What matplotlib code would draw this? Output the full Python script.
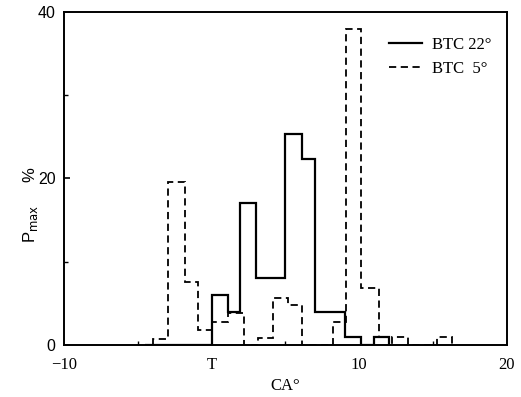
import matplotlib
matplotlib.use("Agg")
from matplotlib import pyplot as plt
from matplotlib.ticker import MultipleLocator

# crank-angle bin edges (deg) and probability of P_max (%) for each series
btc22_edges = [-4.5, 0, 1.1, 1.9, 3.0, 5.0, 6.1, 7.0, 9.0, 10.1, 11.0, 12.0]
btc22_vals = [0, 6, 4, 17, 8, 25.3, 22.3, 4, 1, 0, 1]

btc5_edges = [-3.95, -2.94, -1.81, -0.9, 0, 1.08, 2.2, 3.15, 4.17, 5.15, 6.13,
              8.23, 9.09, 10.1, 11.33, 12.0, 12.2, 13.3, 15.25, 16.27]
btc5_vals = [0.7, 19.6, 7.6, 1.8, 2.8, 3.8, 0, 0.8, 5.7, 4.8, 0,
             2.8, 38, 6.8, 1, 0, 1, 0, 1]

xticks = [-10, 0, 10, 20]
xticklabels = ['\u221210', 'T', '10', '20']
yticks = [0, 20, 40]

serif = 'Liberation Serif'
sans = 'Liberation Sans'

fig = plt.figure(figsize=(5.21, 3.97), dpi=100)
ax = fig.add_axes([0.1228, 0.131, 0.8502, 0.839])

ax.stairs(btc22_vals, btc22_edges, baseline=0, color='black', lw=1.6,
          label='BTC 22\u00b0')
ax.stairs(btc5_vals, btc5_edges, baseline=0, color='black', lw=1.3,
          linestyle=(0, (4, 2.5)), label='BTC  5\u00b0')

ax.set_xlim(-10, 20)
ax.set_ylim(0, 40)
ax.set_xticks(xticks)
ax.set_xticklabels(xticklabels, fontfamily=serif, fontsize=12)
ax.set_yticks(yticks)
ax.set_yticklabels([str(v) for v in yticks], fontfamily=sans, fontsize=11.5)
ax.yaxis.set_minor_locator(MultipleLocator(10))
ax.xaxis.set_minor_locator(MultipleLocator(5))
ax.tick_params(direction='in', length=4, width=1.2, pad=6)
ax.tick_params(which='minor', direction='in', length=3, width=1.0)
ax.tick_params(axis='x', length=0, pad=9)

for s in ax.spines.values():
    s.set_linewidth(1.4)

ax.set_xlabel('CA\u00b0', fontfamily=serif, fontsize=12, labelpad=3)
ax.set_ylabel('P$_{\\rm max}$     %', fontfamily=sans, fontsize=12)
ax.yaxis.set_label_coords(-0.055, 0.42)

leg = ax.legend(loc='upper right', bbox_to_anchor=(1.0, 0.97), frameon=False,
                handlelength=2.0, handletextpad=0.6, labelspacing=0.5,
                prop={'family': serif, 'size': 12})

fig.savefig('out.png', dpi=100)
